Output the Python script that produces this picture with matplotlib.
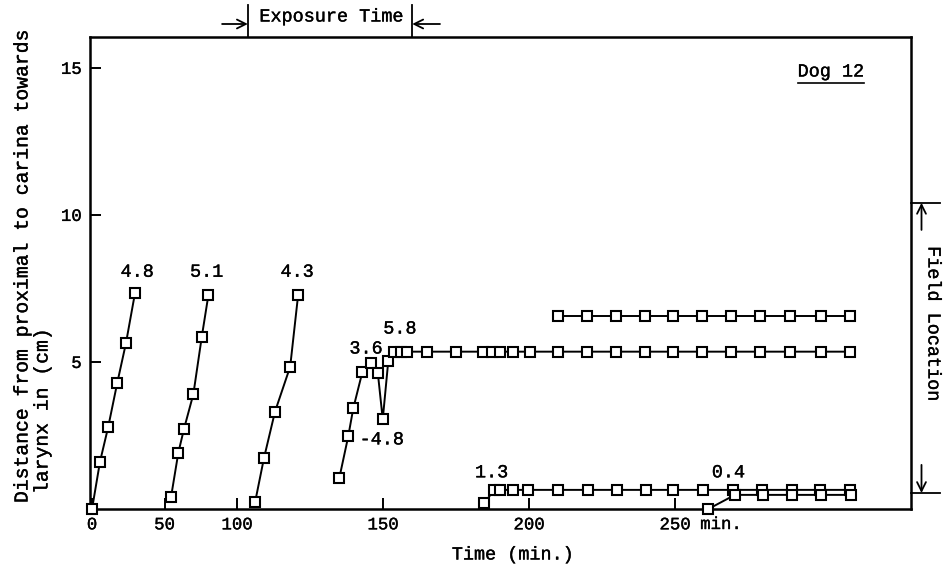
import numpy as np
import matplotlib
matplotlib.use("Agg")
import matplotlib.pyplot as plt
import matplotlib.transforms as mtransforms
import matplotlib.patheffects as pe
from matplotlib.text import Text

# ---------------- data (time in min, distance in cm) ----------------
t1 = [0, 5.5, 11.2, 17.4, 23.4, 29.7]
d1 = [0, 1.61, 2.80, 4.29, 5.64, 7.36]

t2 = [54.5, 59.5, 63.4, 69.9, 75.7, 80.2]
d2 = [0.41, 1.91, 2.72, 3.91, 5.86, 7.26]

t3 = [106.2, 109.2, 113.0, 118.2, 120.9]
d3 = [0.24, 1.72, 3.31, 4.84, 7.26]

t4 = [135.0, 138.1, 139.8, 142.9, 145.8, 148.2, 149.9, 151.8, 153.8, 156.1,
      158.3, 165.0, 174.9, 184.3, 187.2, 190.1, 194.6, 200.3, 210.0, 220.0,
      229.8, 239.7, 249.4, 259.3, 269.1, 279.1, 289.4, 299.9, 309.9]
d4 = [1.04, 2.48, 3.42, 4.65, 4.96, 4.64, 3.05, 5.04, 5.35, 5.35,
      5.35, 5.35, 5.35, 5.35, 5.35, 5.35, 5.35, 5.35, 5.35, 5.35,
      5.35, 5.35, 5.35, 5.35, 5.35, 5.35, 5.35, 5.35, 5.35]

t5 = [210.0, 220.0, 229.8, 239.7, 249.4, 259.3, 269.1, 279.1, 289.4, 299.9, 309.9]
d5 = [6.55, 6.55, 6.55, 6.55, 6.55, 6.55, 6.55, 6.55, 6.55, 6.55, 6.55]

t6 = [184.7, 188.1, 190.1, 194.6, 199.8, 210.0, 220.3, 230.1, 240.0, 249.4,
      259.7, 269.9, 279.7, 289.9, 299.7, 309.9]
d6 = [0.21, 0.65, 0.65, 0.65, 0.65, 0.65, 0.65, 0.65, 0.65, 0.65,
      0.65, 0.65, 0.65, 0.65, 0.65, 0.65]

t7 = [261.4, 270.5, 280.1, 290.0, 300.0, 310.3]
d7 = [0.0, 0.48, 0.48, 0.48, 0.48, 0.48]

series = [(t1, d1), (t2, d2), (t3, d3), (t4, d4), (t5, d5), (t6, d6), (t7, d7)]

rate_labels = ["4.8", "5.1", "4.3", "3.6", "5.8", "-4.8", "1.3", "0.4"]
rate_t = [31.2, 79.1, 120.6, 144.2, 155.8, 149.6, 187.2, 268.3]
rate_d = [8.05, 8.05, 8.05, 5.44, 6.12, 2.35, 1.23, 1.23]

xticks = [0, 50, 100, 150, 200, 250]
xticklabels = ["0", "50", "100", "150", "200", "250"]
yticks = [5, 10, 15]
yticklabels = ["5", "10", "15"]

exposure = (103.8, 159.9)      # min
field = (0.544, 10.41)         # cm

# ---------------- styling ----------------
FONT = ["Liberation Mono", "DejaVu Sans Mono"]
plt.rcParams["font.family"] = FONT
FS = 13.3
FS_TICK = 12.5
FS_YLAB = 14.2

BREAK = 100.0
SLOPE = 2.0138


def fwd(t):
    t = np.asarray(t, dtype=float)
    return np.where(t < BREAK, t, BREAK + SLOPE * (t - BREAK))


def inv(u):
    u = np.asarray(u, dtype=float)
    return np.where(u < BREAK, u, BREAK + (u - BREAK) / SLOPE)


fig = plt.figure(figsize=(9.43, 5.72), dpi=100)
ax = fig.add_axes([90 / 943, 1 - 509 / 572, (911 - 90) / 943, (509 - 37) / 572])
ax.set_xscale("function", functions=(fwd, inv))
ax.set_xlim(-1.4, 330.8)
ax.set_ylim(0, 16.05)

for t, d in series:
    ax.plot(t, d, color="black", lw=1.4, marker="s", ms=6.8, mfc="white",
            mec="black", mew=1.5, clip_on=False, zorder=3)

for s, x, y in zip(rate_labels, rate_t, rate_d):
    ax.text(x, y, s, ha="center", va="center", fontsize=FS)

ax.set_xticks(xticks)
ax.set_xticklabels(xticklabels)
ax.set_yticks(yticks)
ax.set_yticklabels(yticklabels)
ax.xaxis.set_minor_locator(matplotlib.ticker.NullLocator())
ax.tick_params(direction="in", length=8, width=1.4, labelsize=FS_TICK, pad=6)
for sp in ax.spines.values():
    sp.set_linewidth(1.8)

# "min." after the 250 tick label
bl = mtransforms.blended_transform_factory(ax.transData, ax.transAxes)
ax.text(258.6, -0.017, "min.", transform=bl, ha="left", va="top", fontsize=FS_TICK)

# Dog 12 label with underline
dog = ax.text(303.4, 14.86, "Dog 12", ha="center", va="center", fontsize=FS)

# axis labels
fig.text(513 / 943, 1 - 555 / 572, "Time (min.)", ha="center",
         va="center", fontsize=FS)
fig.text(22 / 943, 1 - 503 / 572, "Distance from proximal to carina towards",
         rotation=90, ha="center", va="bottom", fontsize=FS_YLAB)
fig.text(42 / 943, 1 - 494 / 572, "larynx in (cm)",
         rotation=90, ha="center", va="bottom", fontsize=FS_YLAB)

# Exposure time bracket
y_top = 1 + 32 / 472
y_arr = 1 + 13 / 472
for xe in exposure:
    ax.plot([xe, xe], [1.0, y_top], transform=bl, color="black", lw=1.3,
            clip_on=False)
arrow_kw = dict(arrowstyle="->", lw=1.3, color="black",
                mutation_scale=16, shrinkA=0, shrinkB=0)
ax.annotate("", xy=(exposure[0] - 0.1, y_arr), xycoords=bl,
            xytext=(89.7, y_arr), textcoords=bl, arrowprops=arrow_kw)
ax.annotate("", xy=(exposure[1] + 0.1, y_arr), xycoords=bl,
            xytext=(169.5, y_arr), textcoords=bl, arrowprops=arrow_kw)
fig.text(331.7 / 943, 1 - 17 / 572, "Exposure Time", ha="center", va="center",
         fontsize=FS)

# Field location bracket
br = mtransforms.blended_transform_factory(ax.transAxes, ax.transData)
x_end = 1 + 29 / 821
x_arr = 1 + 10.5 / 821
for yf in field:
    ax.plot([1.0, x_end], [yf, yf], transform=br, color="black", lw=1.3,
            clip_on=False)
ax.annotate("", xy=(x_arr, field[1]), xycoords=br,
            xytext=(x_arr, 9.49), textcoords=br, arrowprops=arrow_kw)
ax.annotate("", xy=(x_arr, field[0]), xycoords=br,
            xytext=(x_arr, 1.50), textcoords=br, arrowprops=arrow_kw)
ax.text(1 + 22 / 821, 6.29, "Field Location", transform=br, rotation=-90,
        ha="center", va="center", fontsize=FS)

# slightly heavier typewriter strokes
for txt in fig.findobj(Text):
    txt.set_path_effects([pe.withStroke(linewidth=0.25, foreground="black")])

fig.canvas.draw()
bb = dog.get_window_extent().transformed(fig.transFigure.inverted())
fig.add_artist(plt.Line2D([bb.x0, bb.x1], [bb.y0 - 0.004, bb.y0 - 0.004],
                          transform=fig.transFigure, color="black", lw=1.2))

fig.savefig("out.png", dpi=100)
